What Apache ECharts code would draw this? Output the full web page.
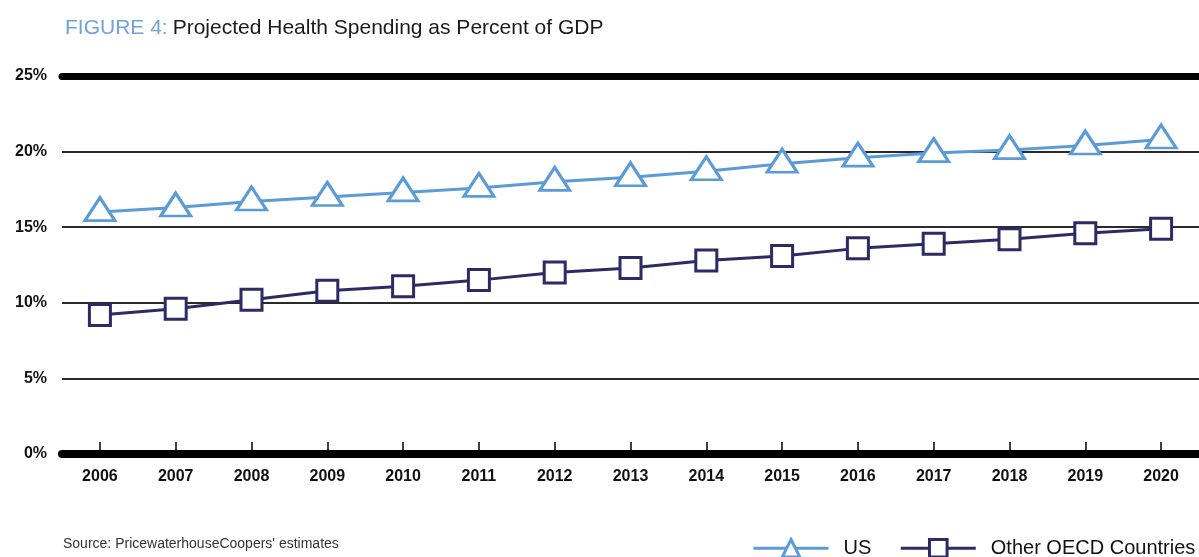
<!DOCTYPE html>
<html>
<head>
<meta charset="utf-8">
<script src="https://cdn.jsdelivr.net/npm/echarts@6/dist/echarts.min.js"></script>
<style>
html,body{margin:0;padding:0;background:#fff;}
#chart{width:1199px;height:557px;}
</style>
</head>
<body>
<div id="chart"></div>
<script>
var years = ['2006','2007','2008','2009','2010','2011','2012','2013','2014','2015','2016','2017','2018','2019','2020'];
var usValues = [16.0, 16.3, 16.7, 17.0, 17.3, 17.6, 18.0, 18.3, 18.7, 19.2, 19.6, 19.9, 20.1, 20.4, 20.8];
var oecdValues = [9.2, 9.6, 10.2, 10.8, 11.1, 11.5, 12.0, 12.3, 12.8, 13.1, 13.6, 13.9, 14.2, 14.6, 14.9];
var seriesNames = ['US', 'Other OECD Countries'];

var US_COLOR = '#5B9BD8';
var OECD_COLOR = '#2D2B63';
var FONT = '"Liberation Sans", Arial, sans-serif';

var chart = echarts.init(document.getElementById('chart'), null, {renderer: 'canvas'});
chart.setOption({
  backgroundColor: '#fff',
  animation: false,
  title: [{
    left: 60, top: 13,
    text: '{b|FIGURE 4:} {t|Projected Health Spending as Percent of GDP}',
    textStyle: {
      fontWeight: 'normal',
      rich: {
        b: {color: '#6FA3DA', fontSize: 21, fontFamily: FONT, fontWeight: 'normal'},
        t: {color: '#1a1a1a', fontSize: 21, fontFamily: FONT, fontWeight: 'normal'}
      }
    }
  }, {
    left: 58, top: 532,
    text: "Source: PricewaterhouseCoopers' estimates",
    textStyle: {color: '#333', fontSize: 14, fontWeight: 'normal', fontFamily: FONT}
  }],
  legend: {
    left: 747, top: 533, width: 700,
    orient: 'horizontal',
    itemWidth: 75, itemHeight: 22, itemGap: 28,
    lineStyle: {width: 3},
    itemStyle: {borderWidth: 3},
    textStyle: {color: '#111', fontSize: 20, fontFamily: FONT, padding: [0, 0, 0, 10]},
    data: seriesNames
  },
  grid: {left: 62, right: 0, top: 76, bottom: 103, containLabel: false},
  xAxis: [{
    type: 'category',
    data: years,
    position: 'bottom',
    boundaryGap: true,
    axisLine: {lineStyle: {color: '#000', width: 8}},
    axisTick: {show: true, inside: true, alignWithLabel: true, length: 12, lineStyle: {color: '#000', width: 1.5}},
    axisLabel: {color: '#111', fontSize: 16, fontWeight: 'bold', fontFamily: FONT, margin: 15}
  }, {
    type: 'category',
    data: years,
    position: 'top',
    axisLine: {lineStyle: {color: '#000', width: 7}},
    axisTick: {show: false},
    axisLabel: {show: false}
  }],
  yAxis: {
    type: 'value',
    min: 0, max: 25, interval: 5,
    axisLine: {show: false},
    axisTick: {show: false},
    splitLine: {lineStyle: {color: '#2a2a2a', width: 2}},
    axisLabel: {formatter: '{value}%', color: '#111', fontSize: 16, fontWeight: 'bold', fontFamily: FONT, margin: 15}
  },
  series: [{
    name: seriesNames[0],
    type: 'line',
    xAxisIndex: 0,
    data: usValues,
    symbol: 'triangle',
    symbolSize: [30, 23],
    symbolOffset: [0, -3],
    showAllSymbol: true,
    z: 3,
    lineStyle: {color: US_COLOR, width: 3},
    itemStyle: {color: '#fff', borderColor: US_COLOR, borderWidth: 3}
  }, {
    name: seriesNames[1],
    type: 'line',
    xAxisIndex: 0,
    data: oecdValues,
    symbol: 'rect',
    symbolSize: 21,
    showAllSymbol: true,
    z: 3,
    lineStyle: {color: OECD_COLOR, width: 3},
    itemStyle: {color: '#fff', borderColor: OECD_COLOR, borderWidth: 3}
  }]
});
</script>
</body>
</html>
